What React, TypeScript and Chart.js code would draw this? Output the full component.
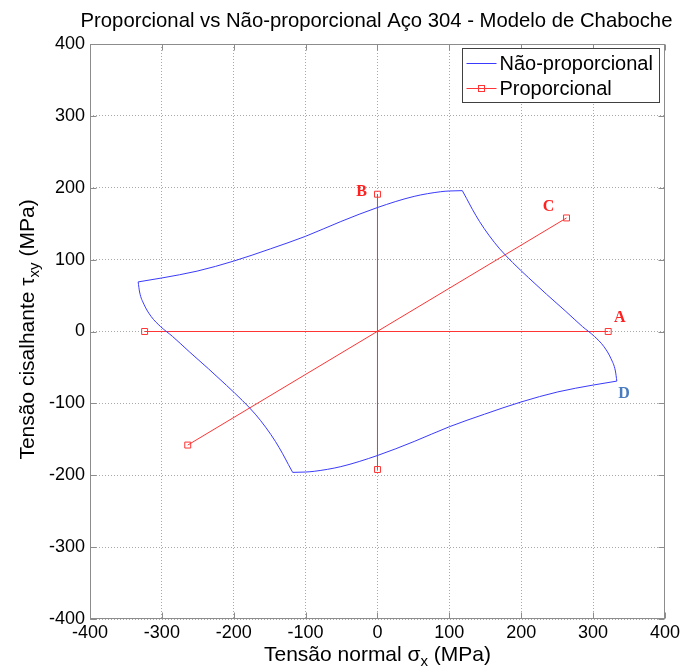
import React, { useEffect, useRef } from "react";
import { Chart, registerables } from "chart.js";

Chart.register(...registerables);

// ---------- text ----------
const TITLE = "Proporcional vs Não-proporcional Aço 304 - Modelo de Chaboche";
const X_TITLE = [
  { t: "Tensão normal σ", sub: false },
  { t: "x", sub: true },
  { t: " (MPa)", sub: false },
];
const Y_TITLE = [
  { t: "Tensão cisalhante τ", sub: false },
  { t: "xy", sub: true },
  { t: " (MPa)", sub: false },
];
const SERIES_NAMES = ["Não-proporcional", "Proporcional"];

// ---------- axes ----------
const AXIS_MIN = -400;
const AXIS_MAX = 400;
const AXIS_STEP = 100;

// ---------- Não-proporcional loop, four branches, x increasing ----------
const topX = [-333, -300, -251, -200, -149, -100, -51, 0, 51, 88, 100, 118];
const topY = [69, 74.5, 84, 98, 115, 132.5, 153, 172.5, 188, 194.5, 195.5, 196];

const rightX = [118, 124, 132, 142, 155, 170, 188, 210, 235, 262, 285, 302, 315, 325, 331, 333];
const rightY = [196, 185, 170, 153, 134, 115, 96, 75, 52, 28, 7, -7, -21, -38, -55, -69];

const bottomX = [-118, -100, -88, -51, 0, 51, 100, 149, 200, 251, 300, 333];
const bottomY = [-196, -195.5, -194.5, -188, -172.5, -153, -132.5, -115, -98, -84, -74.5, -69];

const leftX = [-333, -331, -325, -315, -302, -285, -262, -235, -210, -188, -170, -155, -142, -132, -124, -118];
const leftY = [69, 55, 38, 21, 7, -7, -28, -52, -75, -96, -115, -134, -153, -170, -185, -196];

// ---------- Proporcional paths ----------
const propAX = [-324, 321];
const propAY = [0, 0];
const propBX = [0, 0];
const propBY = [191, -192];
const propCX = [263, -264];
const propCY = [158, -158];

// ---------- point annotations ----------
const noteText = ["A", "B", "C", "D"];
const noteX = [337, -22, 238, 343];
const noteY = [19, 194, 173, -87];

// ---------- styles ----------
const BLUE = "#3a3aff";
const RED = "#ff3434";
const NOTE_COLORS = ["#ff2020", "#ff2020", "#ff2020", "#4a7cc0"];
const SANS = "'Liberation Sans', Arial, sans-serif";
const SERIF = "'Liberation Serif', 'Times New Roman', serif";

const pts = (xs: number[], ys: number[]) => xs.map((x, i) => ({ x, y: ys[i] }));

function drawRich(
  ctx: CanvasRenderingContext2D,
  pieces: { t: string; sub: boolean }[],
  cx: number,
  cy: number,
  size: number,
  subSize: number
) {
  const widths = pieces.map((p) => {
    ctx.font = `${p.sub ? subSize : size}px ${SANS}`;
    return ctx.measureText(p.t).width;
  });
  const total = widths.reduce((a, b) => a + b, 0);
  let x = cx - total / 2;
  ctx.textAlign = "left";
  ctx.textBaseline = "middle";
  pieces.forEach((p, i) => {
    ctx.font = `${p.sub ? subSize : size}px ${SANS}`;
    ctx.fillText(p.t, x, p.sub ? cy + 7 : cy);
    x += widths[i];
  });
}

const overlay = {
  id: "overlay",
  afterDraw(chart: any) {
    const { ctx, chartArea: a, scales } = chart;
    const xs = scales.x;
    const ys = scales.y;
    ctx.save();
    ctx.setLineDash([]);

    // frame
    const L = Math.round(a.left) + 0.5;
    const R = Math.round(a.right) - 0.5;
    const T = Math.round(a.top) + 0.5;
    const B = Math.round(a.bottom) - 0.5;
    ctx.strokeStyle = "#8c8c8c";
    ctx.lineWidth = 1;
    ctx.strokeRect(L, T, R - L, B - T);

    // inward tick marks
    const tl = 6;
    for (let v = AXIS_MIN; v <= AXIS_MAX; v += AXIS_STEP) {
      const px = Math.round(xs.getPixelForValue(v)) + 0.5;
      const py = Math.round(ys.getPixelForValue(v)) + 0.5;
      ctx.beginPath();
      ctx.moveTo(px, B);
      ctx.lineTo(px, B - tl);
      ctx.moveTo(px, T);
      ctx.lineTo(px, T + tl);
      ctx.moveTo(L, py);
      ctx.lineTo(L + tl, py);
      ctx.moveTo(R, py);
      ctx.lineTo(R - tl, py);
      ctx.stroke();
    }

    // annotations
    ctx.font = `bold 16px ${SERIF}`;
    ctx.textAlign = "center";
    ctx.textBaseline = "middle";
    noteText.forEach((t, i) => {
      ctx.fillStyle = NOTE_COLORS[i];
      ctx.fillText(t, xs.getPixelForValue(noteX[i]), ys.getPixelForValue(noteY[i]));
    });

    // legend
    const bx = Math.round(a.right) - 203 + 0.5;
    const by = Math.round(a.top) + 4 + 0.5;
    const bw = 197;
    const bh = 54;
    ctx.fillStyle = "#ffffff";
    ctx.fillRect(bx, by, bw, bh);
    ctx.strokeStyle = "#404040";
    ctx.strokeRect(bx, by, bw, bh);
    const rows = [by + 14.5, by + 39.5];
    const colors = [BLUE, RED];
    rows.forEach((ry, i) => {
      const yy = Math.round(ry) + 0.5;
      ctx.strokeStyle = colors[i];
      ctx.lineWidth = 1;
      ctx.beginPath();
      ctx.moveTo(bx + 4, yy);
      ctx.lineTo(bx + 34, yy);
      ctx.stroke();
      if (i === 1) {
        ctx.strokeRect(bx + 16, yy - 3, 6, 6);
      }
      ctx.fillStyle = "#000";
      ctx.font = `20px ${SANS}`;
      ctx.textAlign = "left";
      ctx.textBaseline = "middle";
      ctx.fillText(SERIES_NAMES[i], bx + 37, yy + 1);
    });

    // title
    ctx.fillStyle = "#000";
    ctx.font = `20.3px ${SANS}`;
    ctx.textAlign = "center";
    ctx.textBaseline = "middle";
    ctx.fillText(TITLE, (a.left + a.right) / 2 - 1, 21);

    // axis titles
    drawRich(ctx, X_TITLE, (a.left + a.right) / 2, 655, 21, 15);
    ctx.save();
    ctx.translate(28, (a.top + a.bottom) / 2 - 2);
    ctx.rotate(-Math.PI / 2);
    drawRich(ctx, Y_TITLE, 0, 0, 21, 15);
    ctx.restore();

    ctx.restore();
  },
};

export default function App() {
  const ref = useRef<HTMLCanvasElement | null>(null);

  useEffect(() => {
    if (!ref.current) return;
    const loopStyle = {
      showLine: true,
      borderColor: BLUE,
      backgroundColor: BLUE,
      borderWidth: 1,
      pointRadius: 0,
      cubicInterpolationMode: "monotone",
    };
    const propStyle = {
      showLine: true,
      borderColor: RED,
      backgroundColor: RED,
      borderWidth: 1,
      pointStyle: "rect",
      pointRadius: 4.2,
      pointBorderWidth: 1,
      pointBorderColor: RED,
      pointBackgroundColor: "rgba(255,255,255,0)",
      tension: 0,
    };
    const axis = (isX: boolean) => ({
      type: "linear" as const,
      min: AXIS_MIN,
      max: AXIS_MAX,
      afterFit: (s: any) => {
        if (isX) s.height = 52;
        else s.width = 90;
      },
      ticks: {
        stepSize: AXIS_STEP,
        autoSkip: false,
        color: "#000",
        padding: isX ? 3 : 5,
        font: { size: 18, family: SANS },
      },
      grid: {
        color: "#a8a8a8",
        lineWidth: 1,
        drawTicks: false,
      },
      border: { display: false, dash: [1, 2] },
    });

    const chart = new Chart(ref.current, {
      type: "scatter",
      data: {
        datasets: [
          { label: SERIES_NAMES[0], data: pts(topX, topY), ...loopStyle },
          { label: SERIES_NAMES[0], data: pts(rightX, rightY), ...loopStyle },
          { label: SERIES_NAMES[0], data: pts(bottomX, bottomY), ...loopStyle },
          { label: SERIES_NAMES[0], data: pts(leftX, leftY), ...loopStyle },
          { label: SERIES_NAMES[1], data: pts(propAX, propAY), ...propStyle },
          { label: SERIES_NAMES[1], data: pts(propBX, propBY), ...propStyle },
          { label: SERIES_NAMES[1], data: pts(propCX, propCY), ...propStyle },
        ] as any,
      },
      options: {
        responsive: false,
        animation: false,
        devicePixelRatio: 1,
        layout: { padding: { left: 0, right: 18, top: 44, bottom: 0 } },
        plugins: {
          legend: { display: false },
          title: { display: false },
          tooltip: { enabled: false },
        },
        scales: { x: axis(true), y: axis(false) },
      } as any,
      plugins: [overlay],
    });
    return () => chart.destroy();
  }, []);

  return (
    <div
      style={{
        position: "absolute",
        left: 0,
        top: 0,
        width: 683,
        height: 671,
        background: "#fff",
      }}
    >
      <canvas ref={ref} width={683} height={671} />
    </div>
  );
}
